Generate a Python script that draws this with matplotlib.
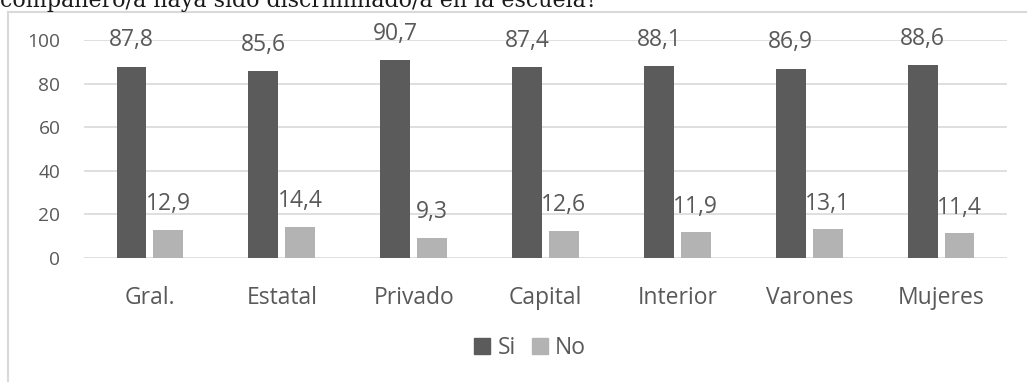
import matplotlib
matplotlib.use("Agg")
import matplotlib.pyplot as plt
from matplotlib.lines import Line2D
from matplotlib.patches import Patch
import numpy as np

categories = ["Gral.", "Estatal", "Privado", "Capital", "Interior", "Varones", "Mujeres"]
si_values = [87.8, 85.6, 90.7, 87.4, 88.1, 86.9, 88.6]
no_values = [12.9, 14.4, 9.3, 12.6, 11.9, 13.1, 11.4]
y_ticks = [0, 20, 40, 60, 80, 100]
series_names = ["Si", "No"]

W, H = 1027, 382
fig = plt.figure(figsize=(W / 100, H / 100), dpi=100)
fig.patch.set_facecolor("white")

FONT = ["Open Sans", "DejaVu Sans"]
TXT = "#595959"
GRID = "#d9d9d9"
DARK = "#5b5b5b"
LIGHT = "#b3b3b3"

# plot area in pixels
x0, x1 = 84, 1007
y_top, y_bot = 40, 258
ax = fig.add_axes([x0 / W, 1 - y_bot / H, (x1 - x0) / W, (y_bot - y_top) / H])

n = len(categories)
x = np.arange(n)
bw = 0.227
off = 0.14
ax.bar(x - off, si_values, width=bw, color=DARK, zorder=3)
ax.bar(x + off, no_values, width=bw, color=LIGHT, zorder=3)

ax.set_xlim(-0.5, n - 0.5)
ax.set_ylim(0, 100)
ax.set_yticks(y_ticks)
ax.set_yticklabels([str(t) for t in y_ticks], fontsize=13.8, color=TXT, family=FONT)
ax.set_xticks(x)
ax.set_xticklabels(categories, fontsize=16.5, color=TXT, family=FONT)
ax.tick_params(axis="y", length=0, pad=17)
ax.tick_params(axis="x", length=0, pad=20)
ax.grid(axis="y", color=GRID, linewidth=1.2, zorder=0)
for s in ax.spines.values():
    s.set_visible(False)

def fmt(v):
    return f"{v:.1f}".replace(".", ",")

for xi, v in zip(x - off, si_values):
    ax.annotate(fmt(v), (xi, v), xytext=(0, 14.5), textcoords="offset points",
                ha="center", va="baseline", fontsize=16.5, color=TXT, family=FONT,
                annotation_clip=False)
for xi, v in zip(x + off, no_values):
    ax.annotate(fmt(v), (xi, v), xytext=(0, 14), textcoords="offset points",
                ha="center", va="baseline", fontsize=16.5, color=TXT, family=FONT,
                annotation_clip=False)

handles = [Patch(color=DARK), Patch(color=LIGHT)]
fig.legend(handles, series_names, loc="center", bbox_to_anchor=(530 / W, 1 - 348 / H),
           ncol=2, frameon=False, prop={"family": FONT, "size": 16.5},
           labelcolor=TXT, handlelength=0.7, handleheight=0.7, handletextpad=0.3,
           columnspacing=0.7)

# chart frame
fig.add_artist(Line2D([8 / W, 8 / W], [0, 1 - 12 / H], color=GRID, linewidth=1.5))
fig.add_artist(Line2D([8 / W, 1.0], [1 - 12 / H, 1 - 12 / H], color=GRID, linewidth=1.5))

# caption line running above the chart, sized to span its column
cap = fig.text(0, 1 - 7.5 / H, "compañero/a haya sido discriminado/a en la escuela?",
               family=["DejaVu Serif"], fontsize=16, color="#1a1a1a",
               ha="left", va="baseline")
r = fig.canvas.get_renderer()
wpx = cap.get_window_extent(r).width
cap.set_fontsize(16 * 598 / wpx)

fig.savefig("out.png", dpi=100)
